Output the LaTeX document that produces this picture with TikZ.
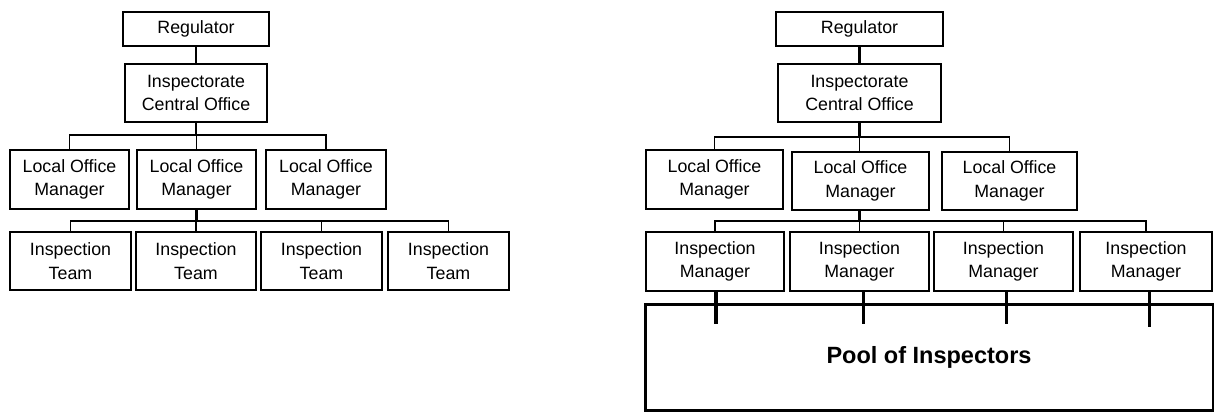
\documentclass[tikz,border=0pt]{standalone}
\usepackage{fontspec}
\setmainfont{Liberation Sans}
\begin{document}
\begin{tikzpicture}[x=1bp,y=-1bp,
  box/.style={draw=black,line width=1.3bp,rectangle,inner sep=0pt,align=center,
    font=\fontsize{17.8bp}{23.3bp}\selectfont},
  link/.style={draw=black,line width=1.4bp},
  trunk/.style={draw=black,line width=2.6bp},
  stub/.style={draw=black,line width=3bp},
  poolbox/.style={draw=black,line width=3bp,rectangle,inner sep=0pt,
    font=\fontsize{23.5bp}{28bp}\selectfont\bfseries}]
\useasboundingbox (0,0) rectangle (1214,412);
% ---------- left chart ----------
\node[box,minimum width=146bp,minimum height=34bp] (reg1) at (196,29) {Regulator};
\node[box,minimum width=142bp,minimum height=58bp] (ico1) at (196,93) {Inspectorate\\Central Office};
\node[box,minimum width=119bp,minimum height=59bp] (loma1) at (69.5,179.5) {Local Office\\Manager};
\node[box,minimum width=119bp,minimum height=59bp] (lomb1) at (196.5,179.5) {Local Office\\Manager};
\node[box,minimum width=120bp,minimum height=59bp] (lomc1) at (326,179.5) {Local Office\\Manager};
\node[box,minimum width=121bp,minimum height=58bp] (ta) at (70.5,261) {Inspection\\Team};
\node[box,minimum width=120bp,minimum height=58bp] (tb) at (196,261) {Inspection\\Team};
\node[box,minimum width=121bp,minimum height=58bp] (tc) at (321.5,261) {Inspection\\Team};
\node[box,minimum width=121bp,minimum height=58bp] (td) at (448.5,261) {Inspection\\Team};
\draw[trunk] (reg1.south) -- (ico1.north);
\draw[trunk] (ico1.south) -- (ico1.south |- 0,135);
\draw[link] (loma1.north) |- (ico1.south |- 0,135) -| (lomc1.north);
\draw[link] (lomb1.north) -- (lomb1.north |- 0,135);
\draw[trunk] (lomb1.south) -- (lomb1.south |- 0,221);
\draw[link] (ta.north) |- (lomb1.south |- 0,221) -| (td.north);
\draw[link] (tb.north) -- (tb.north |- 0,221);
\draw[link] (tc.north) -- (tc.north |- 0,221);
% ---------- right chart ----------
\node[box,minimum width=167bp,minimum height=34bp] (reg2) at (859.5,29) {Regulator};
\node[box,minimum width=163bp,minimum height=58bp] (ico2) at (859.5,93) {Inspectorate\\Central Office};
\node[box,minimum width=137bp,minimum height=59bp] (loma2) at (714.5,179.5) {Local Office\\Manager};
\node[box,minimum width=137bp,minimum height=58bp] (lomb2) at (860.5,181) {Local Office\\Manager};
\node[box,minimum width=135bp,minimum height=58bp] (lomc2) at (1009.5,181) {Local Office\\Manager};
\node[box,minimum width=138bp,minimum height=59bp] (ima) at (715,261.5) {Inspection\\Manager};
\node[box,minimum width=139bp,minimum height=59bp] (imb) at (859.5,261.5) {Inspection\\Manager};
\node[box,minimum width=139bp,minimum height=59bp] (imc) at (1003.5,261.5) {Inspection\\Manager};
\node[box,minimum width=132bp,minimum height=59bp] (imd) at (1146,261.5) {Inspection\\Manager};
\node[poolbox,minimum width=568bp,minimum height=106bp] (pool) at (929,357) {Pool of Inspectors};
\draw[trunk] (reg2.south) -- (ico2.north);
\draw[trunk] (ico2.south) -- (ico2.south |- 0,137);
\draw[link] (loma2.north) |- (ico2.south |- 0,137) -| (lomc2.north);
\draw[link] (lomb2.north -| ico2.south) -- (ico2.south |- 0,137);
\draw[trunk] (lomb2.south -| ico2.south) -- (ico2.south |- 0,221);
\draw[link] (ima.north) |- (ico2.south |- 0,221) -| (imd.north);
\draw[link] (imb.north -| ico2.south) -- (ico2.south |- 0,221);
\draw[link] (imc.north) -- (imc.north |- 0,221);
\coordinate (sa) at (716,324);
\coordinate (sb) at (863,324);
\coordinate (sc) at (1006,324);
\coordinate (sd) at (1149,327);
\draw[stub,line width=4bp] (ima.south -| sa) -- (sa);
\draw[stub] (imb.south -| sb) -- (sb);
\draw[stub] (imc.south -| sc) -- (sc);
\draw[stub] (imd.south -| sd) -- (sd);
\end{tikzpicture}
\end{document}
